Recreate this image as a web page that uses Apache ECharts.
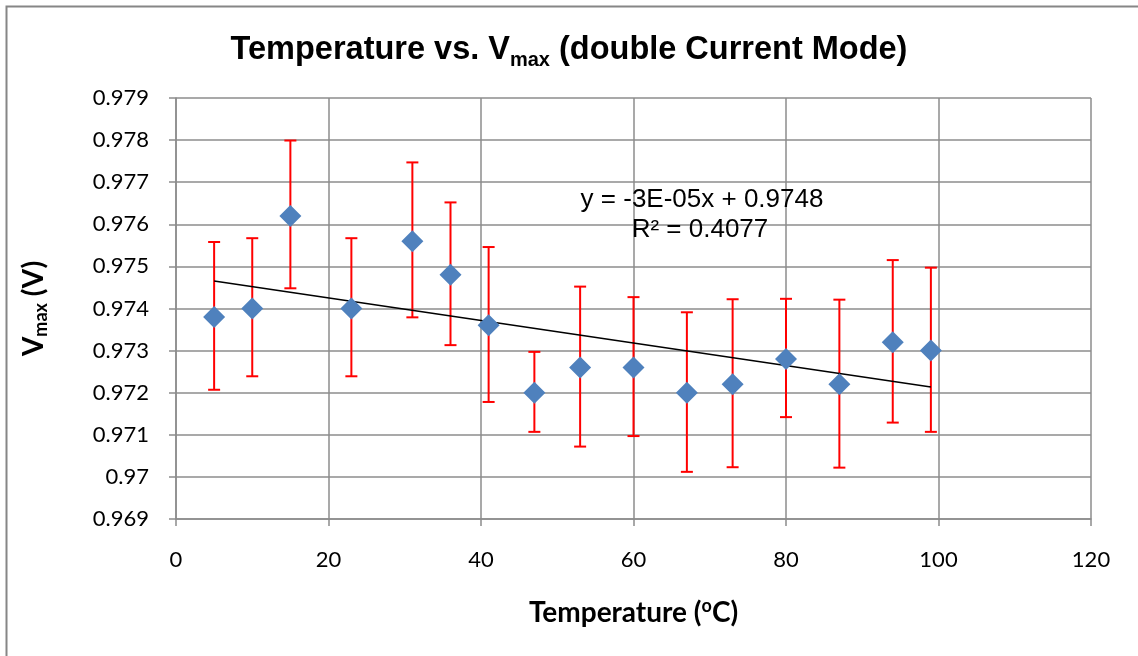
<!DOCTYPE html>
<html>
<head>
<meta charset="utf-8">
<script src="https://cdn.jsdelivr.net/npm/echarts@6/dist/echarts.min.js"></script>
<style>
html,body{margin:0;padding:0;background:#fff;}
#chart{width:1138px;height:656px;}
</style>
</head>
<body>
<div id="chart"></div>
<script>
// Data
const temperatures = [5, 10, 15, 23, 31, 36, 41, 47, 53, 60, 67, 73, 80, 87, 94, 99];
const vmax = [0.9738, 0.9740, 0.9762, 0.9740, 0.9756, 0.9748, 0.9736, 0.9720, 0.9726, 0.9726, 0.9720, 0.9722, 0.9728, 0.9722, 0.9732, 0.9730];
const errHigh = [0.97558, 0.97567, 0.97799, 0.97567, 0.97747, 0.97652, 0.97546, 0.97297, 0.97452, 0.97427, 0.97391, 0.97422, 0.97423, 0.97421, 0.97515, 0.97497];
const errLow = [0.97207, 0.97239, 0.97448, 0.97239, 0.97379, 0.97313, 0.97178, 0.97107, 0.97072, 0.97097, 0.97012, 0.97023, 0.97142, 0.97022, 0.97129, 0.97107];
const xTicks = [0, 20, 40, 60, 80, 100, 120];
const yTicks = [0.969, 0.970, 0.971, 0.972, 0.973, 0.974, 0.975, 0.976, 0.977, 0.978, 0.979];
const equationText = 'y = -3E-05x + 0.9748';
const r2Text = 'R² = 0.4077';

// Linear least-squares trendline from the data
const n = temperatures.length;
const mx = temperatures.reduce((a, b) => a + b, 0) / n;
const my = vmax.reduce((a, b) => a + b, 0) / n;
let sxy = 0, sxx = 0;
for (let i = 0; i < n; i++) {
  sxy += (temperatures[i] - mx) * (vmax[i] - my);
  sxx += (temperatures[i] - mx) * (temperatures[i] - mx);
}
const slope = sxy / sxx;
const intercept = my - slope * mx;
const xFirst = temperatures[0], xLast = temperatures[n - 1];
const trendData = [[xFirst, intercept + slope * xFirst], [xLast, intercept + slope * xLast]];

const scatterData = temperatures.map((t, i) => [t, vmax[i]]);
const errData = temperatures.map((t, i) => [t, errLow[i], errHigh[i]]);

const gridColor = '#8c8c8c';
const chart = echarts.init(document.getElementById('chart'));

const option = {
  animation: false,
  backgroundColor: '#ffffff',
  title: {
    text: '{t|Temperature vs. V}{s|max}{t| (double Current Mode)}',
    left: 'center',
    top: 25,
    textStyle: {
      rich: {
        t: { fontFamily: 'Liberation Sans', fontWeight: 'bold', fontSize: 32.5, color: '#000', lineHeight: 40 },
        s: { fontFamily: 'Liberation Sans', fontWeight: 'bold', fontSize: 20, color: '#000', lineHeight: 20, verticalAlign: 'bottom' }
      }
    }
  },
  grid: { left: 176, top: 98, width: 915, height: 421, containLabel: false },
  xAxis: {
    type: 'value',
    min: xTicks[0],
    max: xTicks[xTicks.length - 1],
    interval: 20,
    name: '{t|Temperature (}{u|o}{t|C)}',
    nameLocation: 'middle',
    nameGap: 78,
    nameTextStyle: {
      rich: {
        t: { fontFamily: 'Lato', fontWeight: 'bold', fontSize: 28, color: '#000', lineHeight: 32 },
        u: { fontFamily: 'Lato', fontWeight: 'bold', fontSize: 18, color: '#000', lineHeight: 18, verticalAlign: 'top' }
      }
    },
    axisLine: { show: true, lineStyle: { color: gridColor, width: 1.5 } },
    axisTick: { show: true, length: 7, lineStyle: { color: gridColor, width: 1.5 } },
    axisLabel: { fontFamily: 'Lato', fontSize: 22, color: '#000', margin: 30 },
    splitLine: { show: true, lineStyle: { color: gridColor, width: 1.5 } }
  },
  yAxis: {
    type: 'value',
    min: yTicks[0],
    max: yTicks[yTicks.length - 1],
    interval: 0.001,
    name: '{v|V}{s|max}{v| (V)}',
    nameLocation: 'middle',
    nameRotate: 90,
    nameGap: 126,
    nameTextStyle: {
      rich: {
        v: { fontFamily: 'Lato', fontWeight: 'bold', fontSize: 28, color: '#000', lineHeight: 32 },
        s: { fontFamily: 'Lato', fontWeight: 'bold', fontSize: 18, color: '#000', lineHeight: 18, verticalAlign: 'bottom' }
      }
    },
    axisLine: { show: true, lineStyle: { color: gridColor, width: 1.5 } },
    axisTick: { show: true, length: 7, lineStyle: { color: gridColor, width: 1.5 } },
    axisLabel: {
      fontFamily: 'Lato', fontSize: 22, color: '#000', margin: 27,
      formatter: v => String(parseFloat(Number(v).toFixed(4)))
    },
    splitLine: { show: true, lineStyle: { color: gridColor, width: 1.5 } }
  },
  graphic: [
    {
      type: 'rect', silent: true, z: 100,
      shape: { x: 6.5, y: 6.5, width: 1200, height: 700 },
      style: { fill: 'none', stroke: '#868686', lineWidth: 2 }
    },
    {
      type: 'text', z: 100,
      x: 702, y: 200,
      style: { text: equationText, font: '26px "Liberation Sans"', fill: '#000', textAlign: 'center', textVerticalAlign: 'middle' }
    },
    {
      type: 'text', z: 100,
      x: 700, y: 230,
      style: { text: r2Text, font: '26px "Liberation Sans"', fill: '#000', textAlign: 'center', textVerticalAlign: 'middle' }
    }
  ],
  series: [
    {
      type: 'custom',
      name: 'error',
      z: 2,
      data: errData,
      renderItem: function (params, api) {
        const x = api.value(0);
        const pLo = api.coord([x, api.value(1)]);
        const pHi = api.coord([x, api.value(2)]);
        const w = 6;
        const st = { stroke: '#ff0000', lineWidth: 2 };
        return {
          type: 'group',
          children: [
            { type: 'line', shape: { x1: pHi[0], y1: pHi[1], x2: pLo[0], y2: pLo[1] }, style: st },
            { type: 'line', shape: { x1: pHi[0] - w, y1: pHi[1], x2: pHi[0] + w, y2: pHi[1] }, style: st },
            { type: 'line', shape: { x1: pLo[0] - w, y1: pLo[1], x2: pLo[0] + w, y2: pLo[1] }, style: st }
          ]
        };
      }
    },
    {
      type: 'line',
      name: 'trend',
      z: 3,
      data: trendData,
      showSymbol: false,
      symbol: 'none',
      lineStyle: { color: '#000', width: 1.5 }
    },
    {
      type: 'scatter',
      name: 'Vmax',
      z: 4,
      data: scatterData,
      symbol: 'diamond',
      symbolSize: 22,
      itemStyle: { color: '#4f81bd', opacity: 1 }
    }
  ]
};
chart.setOption(option);
</script>
</body>
</html>
